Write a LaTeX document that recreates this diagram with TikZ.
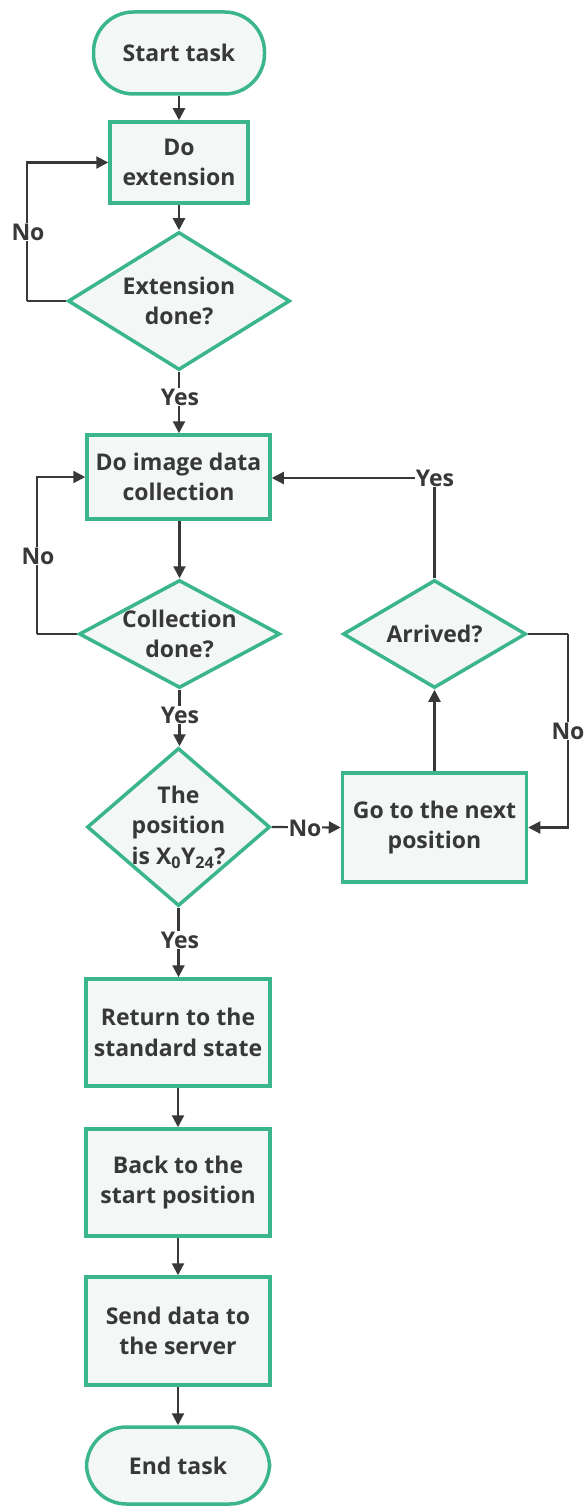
\documentclass[tikz,border=0pt]{standalone}
\usepackage{fontspec}
\setmainfont{Open Sans}
\usetikzlibrary{arrows.meta,shapes.geometric}
\definecolor{brd}{HTML}{3BB58E}
\definecolor{bg}{HTML}{F3F7F6}
\definecolor{ink}{HTML}{383838}
\begin{document}
\begin{tikzpicture}[x=1pt,y=-1pt,
  every node/.style={font=\fontsize{23}{30.5}\selectfont\bfseries, text=ink},
  box/.style={draw=brd, line width=3.5pt, fill=bg, rectangle, align=center, inner sep=2pt},
  term/.style={box, rounded corners=40pt},
  dec/.style={draw=brd, line width=3.5pt, fill=bg, diamond, align=center, inner sep=-40pt},
  arr/.style={draw=ink, line width=2.2pt, -{Triangle[length=12pt,width=12pt]}},
  ln/.style={draw=ink, line width=2.2pt},
  lbl/.style={fill=white, inner sep=1pt}]
\useasboundingbox (0,0) rectangle (587,1506);
\node[term, minimum width=171pt, minimum height=82pt] (start) at (179,53) {Start task};
\node[box, minimum width=138pt, minimum height=81pt] (doext) at (179,162.5) {Do\\extension};
\node[dec, minimum width=222pt, minimum height=138pt] (extdone) at (179,301) {Extension\\done?};
\node[box, minimum width=183pt, minimum height=84pt] (doimg) at (178.5,477) {Do image data\\collection};
\node[dec, minimum width=201pt, minimum height=108pt] (colldone) at (179.5,634) {Collection\\done?};
\node[dec, minimum width=183pt, minimum height=158pt] (posd) at (178.5,827) {The\\position\\is X\textsubscript{0}Y\textsubscript{24}?};
\node[box, minimum width=184pt, minimum height=109pt] (gonext) at (434.5,827.5) {Go to the next\\position};
\node[dec, minimum width=183pt, minimum height=108pt] (arrived) at (434.5,634) {Arrived?};
\node[box, minimum width=184pt, minimum height=107pt] (ret) at (178,1032.5) {Return to the\\standard state};
\node[box, minimum width=184pt, minimum height=107pt] (back) at (178,1182.5) {Back to the\\start position};
\node[box, minimum width=184pt, minimum height=108pt] (send) at (178,1331) {Send data to\\the server};
\node[term, minimum width=183pt, minimum height=77pt] (end) at (178,1465.5) {End task};

\coordinate (c1) at (27,301);
\coordinate (c2) at (37,634);
\coordinate (c3) at (434.5,478);
\coordinate (c4) at (568,634);

\draw[arr] (start) -- (doext);
\draw[arr] (doext) -- (extdone);
\draw[ln] (extdone.west) -- (c1);
\draw[arr] (c1) |- (doext.west);
\draw[arr] (extdone.south) -- (extdone.south |- doimg.north);
\draw[arr] (doimg.south -| colldone.north) -- (colldone.north);
\draw[ln] (colldone.west) -- (c2);
\draw[arr] (c2) |- (doimg.west);
\draw[arr] (colldone.south) -- (colldone.south |- posd.north);
\draw[arr] (posd.east) -- (gonext.west);
\draw[arr] (gonext.north) -- (arrived.south);
\draw[ln] (arrived.north) -- (c3);
\draw[arr] (c3) -- (c3 -| doimg.east);
\draw[ln] (arrived.east) -- (c4);
\draw[arr] (c4) |- (gonext.east);
\draw[arr] (posd.south) -- (posd.south |- ret.north);
\draw[arr] (ret) -- (back);
\draw[arr] (back) -- (send);
\draw[arr] (send) -- (end);

\node[lbl] (l1) at (28,232) {No};
\node[lbl] (l2) at (180,397) {Yes};
\node[lbl] (l3) at (38,556) {No};
\node[lbl] (l4) at (180,715) {Yes};
\node[lbl] (l5) at (305,828) {No};
\node[lbl] (l6) at (435,478) {Yes};
\node[lbl] (l7) at (568,731) {No};
\node[lbl] (l8) at (180,940) {Yes};
\end{tikzpicture}
\end{document}
